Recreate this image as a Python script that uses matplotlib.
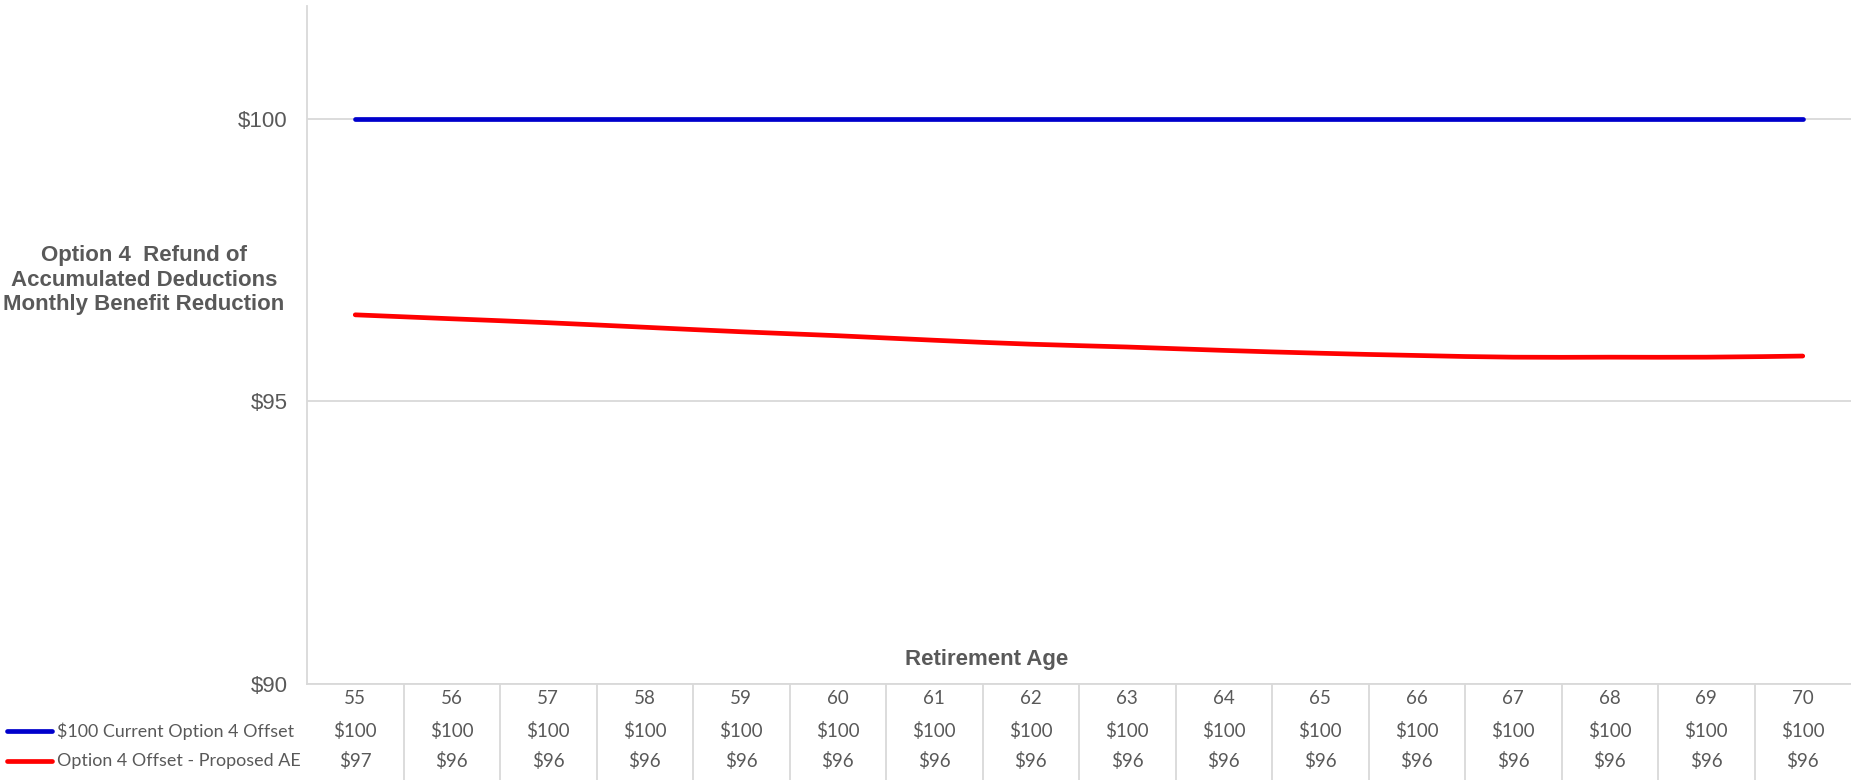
import numpy as np
import matplotlib
matplotlib.use("Agg")
import matplotlib.pyplot as plt
from matplotlib.path import Path
from matplotlib.patches import PathPatch
from matplotlib.transforms import blended_transform_factory
from matplotlib.lines import Line2D

# ---- data -------------------------------------------------------------
ages = [55, 56, 57, 58, 59, 60, 61, 62, 63, 64, 65, 66, 67, 68, 69, 70]
current_offset = [100] * 16
proposed_ae = [96.53, 96.46, 96.39, 96.31, 96.23, 96.16, 96.08, 96.01,
               95.96, 95.90, 95.85, 95.81, 95.78, 95.78, 95.78, 95.80]
series_names = ["$100 Current Option 4 Offset", "Option 4 Offset - Proposed AE"]
y_ticks = [90, 95, 100]

# ---- style ------------------------------------------------------------
W, H, DPI = 1851, 780, 100
GRID = "#d9d9d9"
TXT = "#595959"
BLUE = "#0000cc"
RED = "#ff0000"
AXIS_FONT = ["Liberation Sans", "DejaVu Sans"]
TABLE_FONT = ["Lato", "DejaVu Sans"]

fig = plt.figure(figsize=(W / DPI, H / DPI), dpi=DPI)
fig.patch.set_facecolor("white")

left_px, bottom_px, top_px = 307, 683.5, 6
ax = fig.add_axes([left_px / W, (H - bottom_px) / H, 1 - left_px / W,
                   (bottom_px - top_px) / H])

x = np.arange(len(ages))
ax.set_xlim(-0.5, len(ages) - 0.5)
ax.set_ylim(90, 102)


def smooth_path(xs, ys, t=1 / 6):
    """Cubic Bezier path through every point (Catmull-Rom style)."""
    pts = np.column_stack([xs, ys]).astype(float)
    verts = [pts[0]]
    codes = [Path.MOVETO]
    n = len(pts)
    for i in range(n - 1):
        p0 = pts[i - 1] if i > 0 else pts[i]
        p1, p2 = pts[i], pts[i + 1]
        p3 = pts[i + 2] if i + 2 < n else pts[i + 1]
        c1 = p1 + (p2 - p0) * t
        c2 = p2 - (p3 - p1) * t
        verts += [c1, c2, p2]
        codes += [Path.CURVE4] * 3
    return Path(verts, codes)


lw = 3.4
ax.plot(x, current_offset, color=BLUE, lw=lw, solid_capstyle="round", zorder=3)
ax.add_patch(PathPatch(smooth_path(x, proposed_ae), facecolor="none",
                       edgecolor=RED, lw=lw, capstyle="round", zorder=3))

# axes appearance
ax.set_yticks(y_ticks)
ax.set_yticklabels([f"${v}" for v in y_ticks])
ax.set_xticks([])
ax.grid(axis="y", color=GRID, lw=1.3)
ax.set_axisbelow(True)
for s in ["top", "right"]:
    ax.spines[s].set_visible(False)
for s in ["left", "bottom"]:
    ax.spines[s].set_color(GRID)
    ax.spines[s].set_linewidth(1.3)
ax.tick_params(axis="y", length=0, pad=14, labelsize=16, labelcolor=TXT)
for lab in ax.get_yticklabels():
    lab.set_fontfamily(AXIS_FONT)

# axis titles
fig.text(144 / W, 1 - 280 / H,
         "Option 4  Refund of\nAccumulated Deductions\nMonthly Benefit Reduction",
         ha="center", va="center", fontsize=16, fontweight="bold",
         color=TXT, family=AXIS_FONT, linespacing=1.22)
fig.text(987 / W, 1 - 660 / H, "Retirement Age",
         ha="center", va="center", fontsize=16, fontweight="bold",
         color=TXT, family=AXIS_FONT)

# ---- data table below the axis ---------------------------------------
tr = blended_transform_factory(ax.transData, fig.transFigure)
row_y = [1 - 698 / H, 1 - 731 / H, 1 - 761 / H]
for xi, a in zip(x, ages):
    ax.text(xi, row_y[0], str(a), transform=tr, ha="center", va="center",
            fontsize=13.5, color=TXT, family=TABLE_FONT)
for xi, v in zip(x, current_offset):
    ax.text(xi, row_y[1], f"${v:.0f}", transform=tr, ha="center",
            va="center", fontsize=13.5, color=TXT, family=TABLE_FONT)
for xi, v in zip(x, proposed_ae):
    ax.text(xi, row_y[2], f"${v:.0f}", transform=tr, ha="center",
            va="center", fontsize=13.5, color=TXT, family=TABLE_FONT)

# column separators
for xi in x[:-1]:
    ax.add_line(Line2D([xi + 0.5, xi + 0.5], [0, (H - bottom_px) / H],
                       transform=tr, color=GRID, lw=1.3, clip_on=False))

# row headers with legend keys
for name, color, yy in zip(series_names, [BLUE, RED], row_y[1:]):
    fig.add_artist(Line2D([7 / W, 52 / W], [yy, yy], color=color, lw=lw,
                          solid_capstyle="round"))
    fig.text(57 / W, yy, name, ha="left", va="center", fontsize=12.9,
             color=TXT, family=TABLE_FONT)

fig.savefig("out.png", dpi=DPI, facecolor="white")
